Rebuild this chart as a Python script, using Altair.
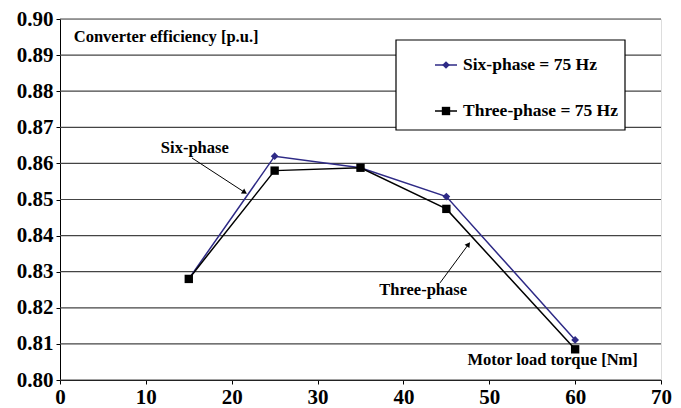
import altair as alt
import pandas as pd

torque = [15, 25, 35, 45, 60]
six_phase = [0.828, 0.862, 0.8588, 0.8508, 0.8111]
three_phase = [0.828, 0.858, 0.8588, 0.8474, 0.8085]
y_ticks = [0.80, 0.81, 0.82, 0.83, 0.84, 0.85, 0.86, 0.87, 0.88, 0.89, 0.90]
x_ticks = [0, 10, 20, 30, 40, 50, 60, 70]

FONT = "Liberation Serif, Times New Roman, serif"
BLUE = "#2e2a86"

df = pd.DataFrame({
    "x": torque * 2,
    "y": six_phase + three_phase,
    "series": ["Six-phase"] * 5 + ["Three-phase"] * 5,
})

xs = alt.Scale(domain=[0, 70], nice=False)
ys = alt.Scale(domain=[0.80, 0.90], nice=False, zero=False)

x_axis = alt.Axis(values=x_ticks, grid=False, title=None,
                  labelFont=FONT, labelFontSize=21, labelFontWeight="bold", labelColor="black",
                  domainColor="black", tickColor="black", tickSize=4, labelPadding=2,
                  labelOverlap=False, labelFlush=False)
y_axis = alt.Axis(values=y_ticks, tickCount=11, format=".2f", grid=False, title=None,
                  labelFont=FONT, labelFontSize=21, labelOverlap=False, labelFlush=False,
                  labelFontWeight="bold", labelColor="black", domainColor="black",
                  tickColor="black", tickSize=4, labelPadding=3)

X = alt.X("x:Q", scale=xs, axis=x_axis)
Y = alt.Y("y:Q", scale=ys, axis=y_axis)

grid = alt.Chart(pd.DataFrame({"g": y_ticks})).mark_rule(color="#444444", strokeWidth=1.2).encode(
    y=alt.Y("g:Q", scale=ys, axis=y_axis))

base = alt.Chart(df)

six = base.transform_filter("datum.series == 'Six-phase'")
three = base.transform_filter("datum.series == 'Three-phase'")

six_line = six.mark_line(color=BLUE, strokeWidth=1.5).encode(x=X, y=Y)
six_pts = six.mark_point(shape="diamond", filled=True, color=BLUE, size=60, opacity=1).encode(x=X, y=Y)
three_line = three.mark_line(color="black", strokeWidth=1.5).encode(x=X, y=Y)
three_pts = three.mark_point(shape="square", filled=True, color="black", size=70, opacity=1).encode(x=X, y=Y)

# annotations (data coordinates)
ann = pd.DataFrame({
    "x": [1.6, 15.7, 42.3, 67.3],
    "y": [0.8951, 0.8643, 0.8249, 0.8055],
    "label": ["Converter efficiency [p.u.]", "Six-phase", "Three-phase", "Motor load torque [Nm]"],
    "al": ["left", "center", "center", "right"],
})
def ann_layer(al):
    return alt.Chart(ann[ann["al"] == al]).mark_text(
        font=FONT, fontSize=16.5, fontWeight="bold", align=al, baseline="middle", color="black"
    ).encode(x=alt.X("x:Q", scale=xs), y=alt.Y("y:Q", scale=ys), text="label:N")
ann_left = ann_layer("left")
ann_center = ann_layer("center")
ann_right = ann_layer("right")

arrows = pd.DataFrame({
    "x": [15.37, 44.26], "y": [0.8615, 0.8269],
    "x2": [21.43, 47.52], "y2": [0.8521, 0.8374],
    "angle": [123, 36],
})
arrow_lines = alt.Chart(arrows).mark_rule(color="black", strokeWidth=1).encode(
    x=alt.X("x:Q", scale=xs), y=alt.Y("y:Q", scale=ys), x2="x2:Q", y2="y2:Q")
arrow_heads = alt.Chart(arrows).mark_point(shape="triangle", filled=True, color="black",
                                          size=35, opacity=1).encode(
    x=alt.X("x2:Q", scale=xs), y=alt.Y("y2:Q", scale=ys), angle=alt.Angle("angle:Q", scale=None))

# legend box
leg = pd.DataFrame({"label": ["Six-phase = 75 Hz", "Three-phase = 75 Hz"], "ypix": [46, 92]})
leg_box = alt.Chart(pd.DataFrame({"a": [0]})).mark_rect(fill="white", stroke="black", strokeWidth=1.2).encode(
    x=alt.value(336), x2=alt.value(565), y=alt.value(21), y2=alt.value(111))
leg_six_line = alt.Chart(leg.iloc[[0]]).mark_rule(color=BLUE, strokeWidth=1.5).encode(
    x=alt.value(375), x2=alt.value(397), y=alt.Y("ypix:Q", scale=None))
leg_three_line = alt.Chart(leg.iloc[[1]]).mark_rule(color="black", strokeWidth=1.5).encode(
    x=alt.value(375), x2=alt.value(397), y=alt.Y("ypix:Q", scale=None))
leg_six_pt = alt.Chart(leg.iloc[[0]]).mark_point(shape="diamond", filled=True, color=BLUE, size=60, opacity=1).encode(
    x=alt.value(386), y=alt.Y("ypix:Q", scale=None))
leg_three_pt = alt.Chart(leg.iloc[[1]]).mark_point(shape="square", filled=True, color="black", size=70, opacity=1).encode(
    x=alt.value(386), y=alt.Y("ypix:Q", scale=None))
leg_text = alt.Chart(leg).mark_text(font=FONT, fontSize=17.5, fontWeight="bold", align="left",
                                    baseline="middle", color="black").encode(
    x=alt.value(403), y=alt.Y("ypix:Q", scale=None), text="label:N")

chart = alt.layer(
    grid, six_line, three_line, six_pts, three_pts,
    ann_left, ann_center, ann_right, arrow_lines, arrow_heads,
    leg_box, leg_six_line, leg_three_line, leg_six_pt, leg_three_pt, leg_text,
).properties(
    width=601, height=361,
    autosize=alt.AutoSizeParams(type="none"),
    padding={"left": 52, "top": 11, "right": 12, "bottom": 28},
).configure_view(stroke="black", strokeWidth=1.2).configure(background="white")

chart.save("out.html", embed_options={"renderer": "svg", "actions": False})
